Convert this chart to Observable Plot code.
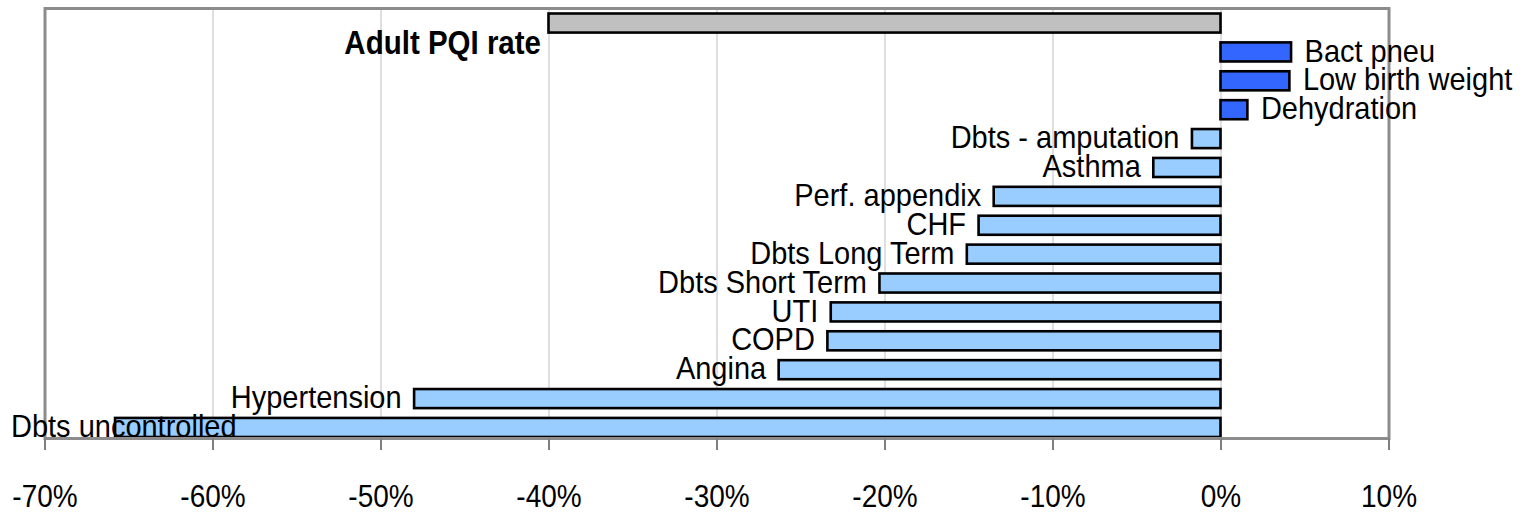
<!DOCTYPE html>
<html>
<head>
<meta charset="utf-8">
<script src="https://cdn.jsdelivr.net/npm/d3@7"></script>
<script src="https://cdn.jsdelivr.net/npm/@observablehq/plot@0.6"></script>
<style>
  html, body { margin: 0; padding: 0; background: #fff; }
  #chart svg { display: block; }
</style>
</head>
<body>
<div id="chart"></div>
<script>
const categories = ["Adult PQI rate", "Bact pneu", "Low birth weight", "Dehydration", "Dbts - amputation", "Asthma", "Perf. appendix", "CHF", "Dbts Long Term", "Dbts Short Term", "UTI", "COPD", "Angina", "Hypertension", "Dbts uncontrolled"];
const changes = [-40.0, 4.2, 4.1, 1.6, -1.7, -4.0, -13.5, -14.4, -15.1, -20.3, -23.2, -23.4, -26.3, -48.0, -65.8];
const groups = ["total", "increase", "increase", "increase", "decrease", "decrease", "decrease", "decrease", "decrease", "decrease", "decrease", "decrease", "decrease", "decrease", "decrease"];
const xTicks = [-70, -60, -50, -40, -30, -20, -10, 0, 10];
const groupNames = ["total", "increase", "decrease"];
const groupColors = ["#c0c0c0", "#3366ff", "#99ccff"];

const data = categories.map((c, i) => ({category: c, value: changes[i], group: groups[i]}));
const totalRows = data.filter(d => d.group === "total");
const posRows = data.filter(d => d.group !== "total" && d.value >= 0);
const negRows = data.filter(d => d.group !== "total" && d.value < 0 && d.category !== "Dbts uncontrolled");
const clampRows = data.filter(d => d.category === "Dbts uncontrolled");

const font = "'Liberation Sans', Arial, sans-serif";

const chart = Plot.plot({
  width: 1536,
  height: 518,
  marginTop: 8,
  marginLeft: 44.5,
  marginRight: 147.5,
  marginBottom: 80,
  style: {fontFamily: font, fontSize: "29px", color: "black", background: "white"},
  x: {domain: [-70, 10]},
  y: {domain: categories, range: [13.5, 437], paddingInner: 0.34, paddingOuter: 0, round: false, axis: null},
  color: {domain: groupNames, range: groupColors},
  marks: [
    Plot.gridX(xTicks, {stroke: "#d4d4d4", strokeOpacity: 1, strokeWidth: 1.5}),
    Plot.barX(data, {x: "value", y: "category", fill: "group", stroke: "black", strokeWidth: 2.6}),
    Plot.frame({stroke: "#8c8c8c", strokeWidth: 3}),
    Plot.axisX(xTicks, {tickSize: 12, tickPadding: 35, tickFormat: d => d + "%", stroke: "#808080", strokeWidth: 2, fill: "black", fontSize: 28, label: null}),
    Plot.text(totalRows, {x: "value", y: "category", text: "category", textAnchor: "end", dx: -8, dy: 20, fontSize: 29.5, fontWeight: "bold", fill: "black"}),
    Plot.text(posRows, {x: "value", y: "category", text: "category", textAnchor: "start", dx: 13, dy: -1, fontSize: 29, fill: "black"}),
    Plot.text(negRows, {x: "value", y: "category", text: "category", textAnchor: "end", dx: -13, dy: -1, fontSize: 29, fill: "black"}),
    Plot.text(clampRows, {y: "category", frameAnchor: "left", text: "category", textAnchor: "start", dx: -34, dy: -1, fontSize: 29, fill: "black"})
  ]
});
// make glyphs a little taller (the reference uses a tall, narrow face)
chart.querySelectorAll("text").forEach(t => {
  const ly = parseFloat(t.getAttribute("y") || "0") || 0;
  const prev = t.getAttribute("transform") || "";
  t.setAttribute("transform", `${prev} translate(0,${ly}) scale(1,1.1) translate(0,${-ly})`.trim());
});
document.getElementById("chart").appendChild(chart);
</script>
</body>
</html>
